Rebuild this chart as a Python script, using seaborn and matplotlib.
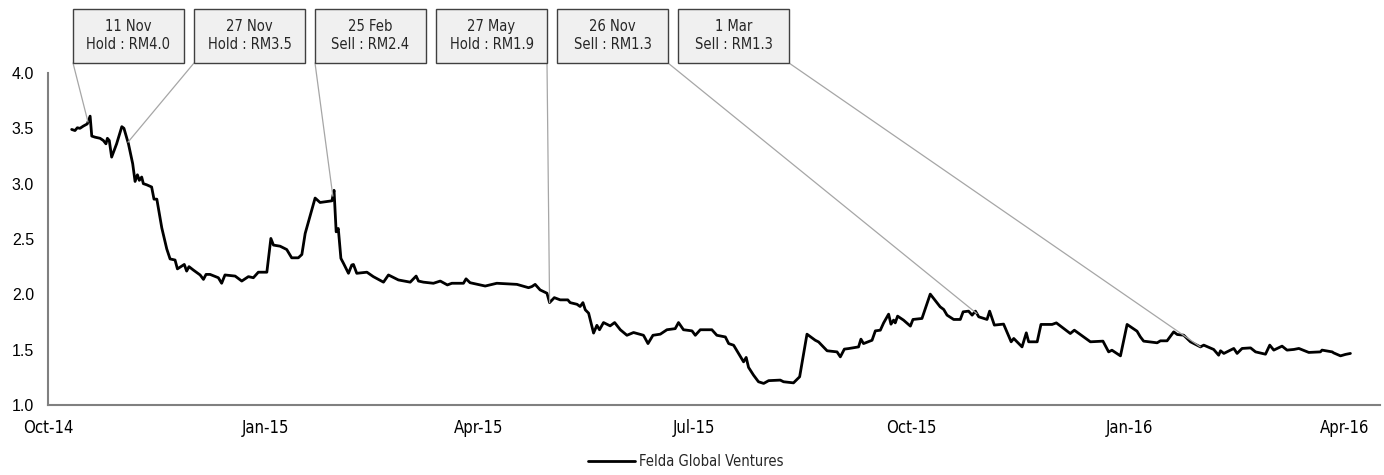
import numpy as np
import pandas as pd
import matplotlib
matplotlib.use("Agg")
import matplotlib.pyplot as plt
import matplotlib.dates as mdates
from matplotlib.patches import Rectangle
import seaborn as sns

# ---------------- data ----------------
start_date = "2014-10-01"
# days after start_date
day = [10.0, 11.4, 12.4, 13.5, 14.9, 16.6, 17.8, 18.5, 19.9, 22.0, 23.4, 24.5, 25.1, 25.9, 26.9,
       29.0, 31.2, 32.1, 34.0, 35.8, 36.8, 37.8, 38.6, 39.6, 40.3, 41.7, 43.8, 44.8, 46.0, 48.1,
       50.2, 51.6, 53.7, 54.7, 56.5, 57.6, 58.6, 59.6, 61.4, 64.3, 65.7, 66.8, 68.5, 72.0, 73.4,
       74.8, 79.1, 81.9, 84.7, 86.8, 88.9, 92.5, 94.2, 95.3, 98.1, 100.9, 103.0, 105.8, 107.3, 108.7,
       112.9, 115.0, 120.0, 120.9, 121.8, 122.7, 123.8, 124.9, 127.0, 128.4, 129.1, 130.5, 134.8, 137.5, 141.8,
       143.9, 148.1, 153.1, 155.6, 156.6, 158.7, 162.9, 165.8, 168.8, 170.7, 175.6, 176.7, 178.4, 184.8, 189.7,
       198.2, 203.1, 204.5, 205.9, 208.0, 210.9, 212.0, 214.0, 216.5, 219.7, 220.7, 223.6, 224.9, 226.1, 227.1,
       228.5, 230.6, 232.0, 233.1, 234.8, 237.6, 239.5, 241.9, 244.7, 247.5, 251.7, 253.6, 255.7, 258.8, 261.6,
       265.1, 266.5, 268.6, 272.2, 273.6, 275.7, 280.6, 282.7, 286.3, 287.7, 289.8, 294.0, 295.1, 296.1, 298.2,
       300.3, 302.5, 304.6, 309.5, 310.9, 315.1, 317.7, 320.8, 324.3, 325.7, 329.3, 333.5, 334.9, 336.6, 338.4,
       342.6, 343.6, 344.7, 348.3, 349.7, 351.8, 353.2, 355.3, 356.3, 357.4, 358.1, 359.1, 361.6, 364.5, 365.6,
       369.4, 372.9, 377.1, 378.6, 380.0, 382.8, 385.6, 386.8, 389.1, 390.6, 392.0, 393.4, 396.9, 398.0, 400.0,
       403.9, 407.1, 408.2, 411.7, 413.5, 414.5, 418.1, 419.7, 424.4, 426.2, 432.1, 433.8, 440.6, 445.9, 448.3,
       449.7, 453.3, 456.1, 460.3, 461.7, 463.1, 468.8, 470.2, 473.0, 475.8, 477.3, 480.0, 482.9, 487.1, 488.5,
       492.7, 494.8, 495.6, 497.0, 501.2, 502.6, 504.7, 508.3, 510.4, 514.6, 516.4, 518.1, 521.6, 523.7, 526.6,
       528.7, 532.9, 537.8, 538.5, 542.8, 543.4, 546.3, 548.4, 550.5]
price = [3.49, 3.48, 3.505, 3.50, 3.52, 3.54, 3.61, 3.43, 3.42, 3.41, 3.39, 3.36, 3.41, 3.39, 3.24,
         3.36, 3.515, 3.50, 3.36, 3.18, 3.02, 3.08, 3.03, 3.06, 3.00, 2.99, 2.97, 2.86, 2.86, 2.60,
         2.41, 2.32, 2.31, 2.23, 2.255, 2.27, 2.21, 2.25, 2.22, 2.175, 2.135, 2.18, 2.18, 2.15, 2.10,
         2.175, 2.165, 2.12, 2.16, 2.15, 2.20, 2.20, 2.505, 2.445, 2.435, 2.405, 2.33, 2.33, 2.36, 2.55,
         2.87, 2.83, 2.845, 2.94, 2.565, 2.595, 2.325, 2.28, 2.19, 2.265, 2.27, 2.19, 2.20, 2.16, 2.11,
         2.175, 2.13, 2.11, 2.165, 2.12, 2.11, 2.10, 2.12, 2.085, 2.10, 2.10, 2.14, 2.105, 2.075, 2.10,
         2.09, 2.06, 2.07, 2.09, 2.04, 2.01, 1.925, 1.97, 1.95, 1.95, 1.925, 1.91, 1.89, 1.925, 1.86,
         1.83, 1.65, 1.72, 1.68, 1.745, 1.715, 1.745, 1.68, 1.63, 1.655, 1.63, 1.555, 1.63, 1.64, 1.68,
         1.69, 1.745, 1.68, 1.67, 1.63, 1.68, 1.68, 1.63, 1.615, 1.555, 1.54, 1.39, 1.43, 1.34, 1.27,
         1.21, 1.195, 1.22, 1.225, 1.21, 1.20, 1.255, 1.64, 1.585, 1.57, 1.49, 1.48, 1.435, 1.505, 1.51,
         1.525, 1.595, 1.555, 1.585, 1.67, 1.676, 1.742, 1.821, 1.73, 1.767, 1.742, 1.803, 1.767, 1.713, 1.773,
         1.782, 2.002, 1.887, 1.863, 1.812, 1.773, 1.773, 1.842, 1.848, 1.812, 1.848, 1.797, 1.773, 1.848, 1.722,
         1.731, 1.571, 1.601, 1.525, 1.652, 1.571, 1.571, 1.728, 1.728, 1.742, 1.646, 1.676, 1.571, 1.577, 1.48,
         1.495, 1.444, 1.728, 1.667, 1.616, 1.577, 1.562, 1.58, 1.58, 1.661, 1.637, 1.631, 1.571, 1.525, 1.541,
         1.502, 1.45, 1.49, 1.466, 1.511, 1.466, 1.511, 1.516, 1.48, 1.459, 1.541, 1.496, 1.532, 1.496, 1.502,
         1.511, 1.475, 1.48, 1.496, 1.48, 1.471, 1.444, 1.457, 1.466]
series_name = "Felda Global Ventures"

note_title = ["11 Nov", "27 Nov", "25 Feb", "27 May", "26 Nov", "1 Mar"]
note_call = ["Hold : RM4.0", "Hold : RM3.5", "Sell : RM2.4", "Hold : RM1.9", "Sell : RM1.3", "Sell : RM1.3"]
note_day = [16.9, 33.8, 120.4, 212.0, 392.6, 487.0]

y_ticks = [1.0, 1.5, 2.0, 2.5, 3.0, 3.5, 4.0]

# ---------------- build ----------------
t0 = pd.Timestamp(start_date)
df = pd.DataFrame({"date": t0 + pd.to_timedelta(day, unit="D"), "price": price})

sns.set_style("white")
plt.rcParams["font.family"] = ["DejaVu Sans"]

W, H = 1384, 475
fig = plt.figure(figsize=(W / 100, H / 100), dpi=100)
ax = fig.add_axes([48 / W, (H - 405) / H, (1380 - 48) / W, (405 - 73) / H])

sns.lineplot(data=df, x="date", y="price", color="black", linewidth=2.0, ax=ax,
             label=series_name, legend=False)

ax.set_xlim(t0, t0 + pd.Timedelta(days=563))
ax.set_ylim(1.0, 4.0)
ax.set_yticks(y_ticks)
ax.yaxis.set_major_formatter(matplotlib.ticker.FormatStrFormatter("%.1f"))
ax.xaxis.set_major_locator(mdates.MonthLocator(bymonth=[1, 4, 7, 10]))
ax.xaxis.set_major_formatter(mdates.DateFormatter("%b-%y"))
ax.set_xlabel("")
ax.set_ylabel("")

for s in ["top", "right"]:
    ax.spines[s].set_visible(False)
for s in ["left", "bottom"]:
    ax.spines[s].set_color("#808080")
    ax.spines[s].set_linewidth(1.5)
ax.tick_params(axis="both", direction="out", length=4, width=1, color="#808080",
               labelcolor="black")
ax.tick_params(axis="x", pad=6)
ax.tick_params(axis="y", pad=6)
for lab in ax.get_yticklabels():
    lab.set_fontfamily("Liberation Sans")
    lab.set_fontsize(11.5)
for lab in ax.get_xticklabels():
    lab.set_fontfamily("DejaVu Sans")
    lab.set_fontstretch("condensed")
    lab.set_fontsize(12)

# legend
h, l = ax.get_legend_handles_labels()
fig.legend(h, l, loc="center", bbox_to_anchor=(686 / W, 1 - 462 / H), frameon=False,
           handlelength=3.2, handletextpad=0.3,
           prop={"size": 10.5, "stretch": "condensed"})

# annotation boxes with leader lines
box_w, box_h = 111, 54
for i, (t1, t2, d) in enumerate(zip(note_title, note_call, note_day)):
    x0 = 73 + 121 * i
    y_top = 9
    rect = Rectangle((x0 / W, 1 - (y_top + box_h) / H), box_w / W, box_h / H,
                     transform=fig.transFigure, facecolor="#f0f0f0", edgecolor="#404040",
                     linewidth=1.0, zorder=5)
    fig.patches.append(rect)
    fig.text((x0 + box_w / 2) / W, 1 - (y_top + box_h / 2 - 0.5) / H, t1 + "\n" + t2,
             ha="center", va="center", fontsize=10.5, fontstretch="condensed",
             linespacing=1.2, zorder=6)
    target_date = t0 + pd.Timedelta(days=d)
    target_val = float(np.interp(d, day, price))
    corner_x = x0 if i < 3 else x0 + box_w
    ax.annotate("", xy=(mdates.date2num(target_date), target_val), xycoords="data",
                xytext=(corner_x, H - (y_top + box_h)), textcoords="figure pixels",
                arrowprops=dict(arrowstyle="-", color="#a6a6a6", lw=0.9,
                                shrinkA=0, shrinkB=0),
                annotation_clip=False)

fig.savefig("out.png", dpi=100)
